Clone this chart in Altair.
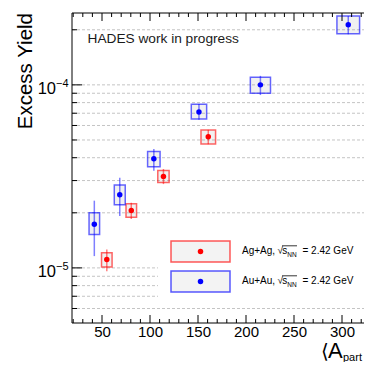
import altair as alt
import pandas as pd

# ---------------- data ----------------
# Au+Au, sqrt(s_NN) = 2.42 GeV
au_x = [42, 68.5, 104, 151, 215, 306.5]
au_xerr = [5.5, 5.7, 6.5, 8.0, 10.5, 11.8]
au_y = [1.73e-5, 2.51e-5, 3.95e-5, 7.1e-5, 1.0e-4, 2.13e-4]
au_err_lo = [1.16e-5, 1.92e-5, 3.39e-5, 6.44e-5, 8.8e-5, 1.89e-4]
au_err_hi = [2.33e-5, 3.11e-5, 4.47e-5, 7.87e-5, 1.12e-4, 2.38e-4]
au_sys_lo = [1.52e-5, 2.21e-5, 3.57e-5, 6.5e-5, 9.0e-5, 1.9e-4]
au_sys_hi = [2.0e-5, 2.84e-5, 4.32e-5, 7.84e-5, 1.10e-4, 2.38e-4]

# Ag+Ag, sqrt(s_NN) = 2.42 GeV
ag_x = [55, 80.5, 114, 160.7]
ag_xerr = [5.5, 5.5, 5.9, 7.6]
ag_y = [1.11e-5, 2.06e-5, 3.16e-5, 5.2e-5]
ag_err_lo = [9.6e-6, 1.85e-5, 2.87e-5, 4.74e-5]
ag_err_hi = [1.26e-5, 2.27e-5, 3.47e-5, 5.68e-5]
ag_sys_lo = [1.01e-5, 1.89e-5, 2.93e-5, 4.76e-5]
ag_sys_hi = [1.21e-5, 2.24e-5, 3.41e-5, 5.66e-5]

# axes
x_major = [50, 100, 150, 200, 250, 300]
x_minor = [20, 30, 40, 60, 70, 80, 90, 110, 120, 130, 140, 160, 170, 180, 190,
           210, 220, 230, 240, 260, 270, 280, 290, 310, 320]
y_major = [1e-5, 1e-4]
y_major_exp = ["\u22125", "\u22124"]
y_minor = [6e-6, 7e-6, 8e-6, 9e-6, 2e-5, 3e-5, 4e-5, 5e-5, 6e-5, 7e-5, 8e-5,
           9e-5, 2e-4]
y_grid = sorted(y_major + y_minor)

# ---------------- layout ----------------
W, H = 292, 310
FONT = "Liberation Sans"
BLUE, RED = "#0000ff", "#ff0000"

xscale = alt.Scale(domain=[18.75, 322.9], nice=False, zero=False)
yscale = alt.Scale(type="log", domain=[5e-6, 2.47e-4], nice=False)
xaxis = alt.Axis(values=x_major, ticks=False, domain=False, grid=False,
                 labelFontSize=15, labelFont=FONT, labelColor="black",
                 labelPadding=1, title=None, labelFlush=False)


def X(f):
    return alt.X(f"{f}:Q", scale=xscale, axis=xaxis)


def Y(f):
    return alt.Y(f"{f}:Q", scale=yscale, axis=None)


one = alt.Data(values=[{"a": 1}])


def series_df(x, xe, y, elo, ehi, slo, shi):
    return pd.DataFrame({
        "x": x, "xlo": [a - b for a, b in zip(x, xe)],
        "xhi": [a + b for a, b in zip(x, xe)],
        "y": y, "elo": elo, "ehi": ehi, "slo": slo, "shi": shi,
    })


au = series_df(au_x, au_xerr, au_y, au_err_lo, au_err_hi, au_sys_lo, au_sys_hi)
ag = series_df(ag_x, ag_xerr, ag_y, ag_err_lo, ag_err_hi, ag_sys_lo, ag_sys_hi)


def series_layers(df, color):
    box = alt.Chart(df).mark_rect(
        fill="#8a8a8a", fillOpacity=0.12, stroke=color, strokeOpacity=0.6,
        strokeWidth=1.5).encode(x=X("xlo"), x2="xhi", y=Y("slo"), y2="shi")
    err = alt.Chart(df).mark_rule(color=color, opacity=0.5, strokeWidth=1.5).encode(
        x=X("x"), y=Y("elo"), y2="ehi")
    dot = alt.Chart(df).mark_circle(size=30, color=color, opacity=1).encode(
        x=X("x"), y=Y("y"))
    return [box, err, dot]


grid_df = pd.DataFrame({"v": y_grid})
grid = alt.Chart(grid_df).mark_rule(color="#c4c4c4", strokeDash=[3, 2], strokeWidth=1).encode(
    y=Y("v"), x=alt.value(0), x2=alt.value(W))

legend_bg = alt.Chart(one).mark_rect(fill="white").encode(
    x=alt.value(86), x2=alt.value(292), y=alt.value(205), y2=alt.value(290))

# ticks
ymaj_df = pd.DataFrame({"v": y_major, "e": y_major_exp})
ymin_df = pd.DataFrame({"v": y_minor})
xmaj_df = pd.DataFrame({"v": x_major})
xmin_df = pd.DataFrame({"v": x_minor})
tk = dict(color="black", strokeWidth=1)
ticks = [
    alt.Chart(ymaj_df).mark_rule(**tk).encode(y=Y("v"), x=alt.value(0), x2=alt.value(10)),
    alt.Chart(ymin_df).mark_rule(**tk).encode(y=Y("v"), x=alt.value(0), x2=alt.value(5)),
    alt.Chart(xmaj_df).mark_rule(**tk).encode(x=X("v"), y=alt.value(H), y2=alt.value(H - 8)),
    alt.Chart(xmin_df).mark_rule(**tk).encode(x=X("v"), y=alt.value(H), y2=alt.value(H - 4)),
    alt.Chart(xmaj_df).mark_rule(**tk).encode(x=X("v"), y=alt.value(0), y2=alt.value(8)),
    alt.Chart(xmin_df).mark_rule(**tk).encode(x=X("v"), y=alt.value(0), y2=alt.value(4)),
]
frame = [
    alt.Chart(one).mark_rule(**tk).encode(x=alt.value(0), y=alt.value(0), y2=alt.value(H)),
    alt.Chart(one).mark_rule(**tk).encode(x=alt.value(0), x2=alt.value(W), y=alt.value(0)),
    alt.Chart(one).mark_rule(**tk).encode(x=alt.value(0), x2=alt.value(W), y=alt.value(H)),
]

ylab10 = alt.Chart(ymaj_df).mark_text(
    align="right", baseline="alphabetic", dy=9, fontSize=16.5, font=FONT, color="black"
).encode(y=Y("v"), x=alt.value(-16), text=alt.value("10"))
ylabexp = alt.Chart(ymaj_df).mark_text(
    align="left", baseline="alphabetic", dy=2, fontSize=11, font=FONT, color="black"
).encode(y=Y("v"), x=alt.value(-16), text="e:N")


def txt(s, x, y, size, align="left", angle=0, color="black", font=FONT):
    kw = dict(align=align, baseline="alphabetic", fontSize=size, font=font, color=color)
    if angle:
        kw["angle"] = angle
    return alt.Chart(one).mark_text(**kw).encode(
        x=alt.value(x), y=alt.value(y), text=alt.value(s))


texts = [
    txt("Excess Yield", -40, 0, 20.5, align="right", angle=270),
    txt("HADES work in progress", 15.5, 30.3, 13.7, color="#1a1a1a"),
    txt("\u27e8", 249, 345, 20, font="DejaVu Sans"),
    txt("A", 256, 345, 22),
    txt("part", 271, 347.5, 11),
]

# legend
legend = []
for (label, color, top) in [("Ag+Ag,", RED, 228), ("Au+Au,", BLUE, 258)]:
    legend.append(alt.Chart(one).mark_rect(
        fill="#8a8a8a", fillOpacity=0.1, stroke=color, strokeOpacity=0.65, strokeWidth=1.5
    ).encode(x=alt.value(99), x2=alt.value(158), y=alt.value(top), y2=alt.value(top + 21)))
    legend.append(alt.Chart(one).mark_circle(size=30, color=color, opacity=1).encode(
        x=alt.value(128.5), y=alt.value(top + 10.5)))
    base = top + 13.3
    legend += [
        txt(label, 170, base, 10),
        txt("\u221a", 205.5, base, 10),
        txt("s", 210.2, base, 10),
        txt("NN", 215.3, base + 2.5, 6.5),
        txt("= 2.42 GeV", 230.5, base, 10),
    ]
    legend.append(alt.Chart(one).mark_rule(color="black", strokeWidth=0.8).encode(
        x=alt.value(210), x2=alt.value(225), y=alt.value(base - 8.5)))

layers = ([grid, legend_bg] + series_layers(ag, RED) + series_layers(au, BLUE)
          + ticks + frame + [ylab10, ylabexp] + texts + legend)

chart = alt.layer(*layers).properties(
    width=W, height=H, autosize="none",
    padding={"left": 64, "top": 5, "right": 0, "bottom": 39},
    background="white",
).configure_view(stroke=None)

chart.save("out.html", embed_options={"renderer": "svg", "actions": False})
